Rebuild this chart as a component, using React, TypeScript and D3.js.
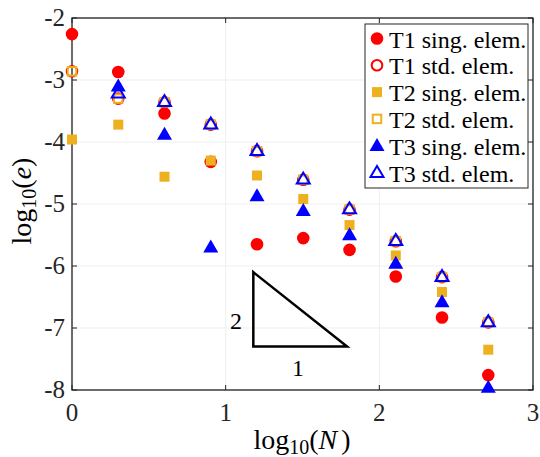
import React from "react";
import { scaleLinear, range } from "d3";

// log10(N) for N = 1, 2, 4, ..., 512
const logN = [0, 0.301, 0.602, 0.903, 1.204, 1.505, 1.806, 2.107, 2.408, 2.709];

const t1Sing = [-2.26, -2.87, -3.54, -4.32, -5.65, -5.55, -5.74, -6.17, -6.83, -7.76];
const t1Std = [-2.86, -3.3, -3.36, -3.72, -4.15, -4.61, -5.09, -5.6, -6.18, -6.91];
const t2Sing = [-3.96, -3.72, -4.56, -4.3, -4.54, -4.92, -5.34, -5.83, -6.42, -7.35];
const t2Std = [-2.86, -3.3, -3.36, -3.72, -4.15, -4.61, -5.09, -5.6, -6.18, -6.91];
// T3 has no N = 1 value
const t3Sing = [null, -3.1, -3.88, -5.7, -4.87, -5.11, -5.5, -5.96, -6.58, -7.96];
const t3Std = [null, -3.21, -3.35, -3.71, -4.14, -4.6, -5.08, -5.59, -6.17, -6.9];

const xTicks = [0, 1, 2, 3];
const yTicks = [-2, -3, -4, -5, -6, -7, -8];

const legendLabels = [
  "T1 sing. elem.",
  "T1 std. elem.",
  "T2 sing. elem.",
  "T2 std. elem.",
  "T3 sing. elem.",
  "T3 std. elem.",
];

const RED = "#ff0000";
const YEL = "#EDB120";
const BLUE = "#0000ff";

const series = [
  { values: t1Sing, shape: "circle", filled: true, color: RED },
  { values: t1Std, shape: "circle", filled: false, color: RED },
  { values: t2Sing, shape: "square", filled: true, color: YEL },
  { values: t2Std, shape: "square", filled: false, color: YEL },
  { values: t3Sing, shape: "triangle", filled: true, color: BLUE },
  { values: t3Std, shape: "triangle", filled: false, color: BLUE },
];

const Marker = ({ shape, filled, color, x, y }) => {
  const sw = filled ? 0 : 2;
  const fill = filled ? color : "none";
  if (shape === "circle") {
    return <circle cx={x} cy={y} r={filled ? 6.3 : 5.3} fill={fill} stroke={color} strokeWidth={sw} />;
  }
  if (shape === "square") {
    const s = filled ? 10 : 8.5;
    return <rect x={x - s / 2} y={y - s / 2} width={s} height={s} fill={fill} stroke={color} strokeWidth={sw} />;
  }
  const h = filled ? 13 : 11;
  const w = filled ? 15 : 13;
  const pts = `${x},${y - h * 0.6} ${x - w / 2},${y + h * 0.4} ${x + w / 2},${y + h * 0.4}`;
  return <polygon points={pts} fill={fill} stroke={color} strokeWidth={sw} strokeLinejoin="miter" />;
};

const App = () => {
  const width = 540;
  const height = 457;
  const left = 72, right = 533, top = 18, bottom = 390;
  const x = scaleLinear().domain([0, 3]).range([left, right]);
  const y = scaleLinear().domain([-8, -2]).range([bottom, top]);
  const font = "'Liberation Serif', 'Times New Roman', Times, serif";

  // slope triangle (2:1 reference)
  const tri = [
    [1.18, -6.1],
    [1.18, -7.3],
    [1.79, -7.3],
  ];

  return (
    <svg width={width} height={height} style={{ position: "absolute", left: 0, top: 0, fontFamily: font }}>
      <rect width={width} height={height} fill="#fff" />
      {/* grid */}
      {xTicks.map((t) => (
        <line key={"gx" + t} x1={x(t)} x2={x(t)} y1={top} y2={bottom} stroke="#ebebeb" strokeWidth={0.8} />
      ))}
      {yTicks.map((t) => (
        <line key={"gy" + t} x1={left} x2={right} y1={y(t)} y2={y(t)} stroke="#ebebeb" strokeWidth={0.8} />
      ))}
      {/* ticks */}
      {xTicks.map((t) => (
        <g key={"tx" + t}>
          <line x1={x(t)} x2={x(t)} y1={bottom} y2={bottom - 5} stroke="#222" strokeWidth={1} />
          <line x1={x(t)} x2={x(t)} y1={top} y2={top + 5} stroke="#222" strokeWidth={1} />
          <text x={x(t)} y={421} textAnchor="middle" fontSize={25} fill="#262626">{t}</text>
        </g>
      ))}
      {yTicks.map((t) => (
        <g key={"ty" + t}>
          <line x1={left} x2={left + 5} y1={y(t)} y2={y(t)} stroke="#222" strokeWidth={1} />
          <line x1={right} x2={right - 5} y1={y(t)} y2={y(t)} stroke="#222" strokeWidth={1} />
          <text x={65} y={y(t) + 8} textAnchor="end" fontSize={25} fill="#262626">{t}</text>
        </g>
      ))}
      <rect x={left} y={top} width={right - left} height={bottom - top} fill="none" stroke="#222" strokeWidth={1.3} />

      {/* slope triangle */}
      <polygon
        points={tri.map((p) => `${x(p[0])},${y(p[1])}`).join(" ")}
        fill="none"
        stroke="#000"
        strokeWidth={2.5}
      />
      <text x={236} y={329} textAnchor="middle" fontSize={24}>2</text>
      <text x={298} y={376} textAnchor="middle" fontSize={24}>1</text>

      {/* markers */}
      {series.map((s, si) => (
        <g key={"s" + si}>
          {s.values.map((v, i) =>
            v === null ? null : (
              <Marker key={i} shape={s.shape} filled={s.filled} color={s.color} x={x(logN[i])} y={y(v)} />
            )
          )}
        </g>
      ))}

      {/* legend */}
      <rect x={365} y={24} width={163} height={164} fill="#fff" stroke="#262626" strokeWidth={1} />
      {range(series.length).map((i) => (
        <g key={"l" + i}>
          <Marker shape={series[i].shape} filled={series[i].filled} color={series[i].color} x={377} y={38.5 + i * 26.8} />
          <text x={389} y={38.5 + i * 26.8 + 9} fontSize={24} fill="#000">{legendLabels[i]}</text>
        </g>
      ))}

      {/* axis labels */}
      <text x={302} y={449} textAnchor="middle" fontSize={28} fill="#000">
        log<tspan fontSize={20} dy={5}>10</tspan>
        <tspan dy={-5}>(</tspan>
        <tspan fontStyle="italic">N</tspan>
        <tspan dx={4}>)</tspan>
      </text>
      <text transform="translate(31,201) rotate(-90)" textAnchor="middle" fontSize={28} fill="#000">
        log<tspan fontSize={20} dy={5}>10</tspan>
        <tspan dy={-5}>(</tspan>
        <tspan fontStyle="italic">e</tspan>
        <tspan>)</tspan>
      </text>
    </svg>
  );
};

export default App;
